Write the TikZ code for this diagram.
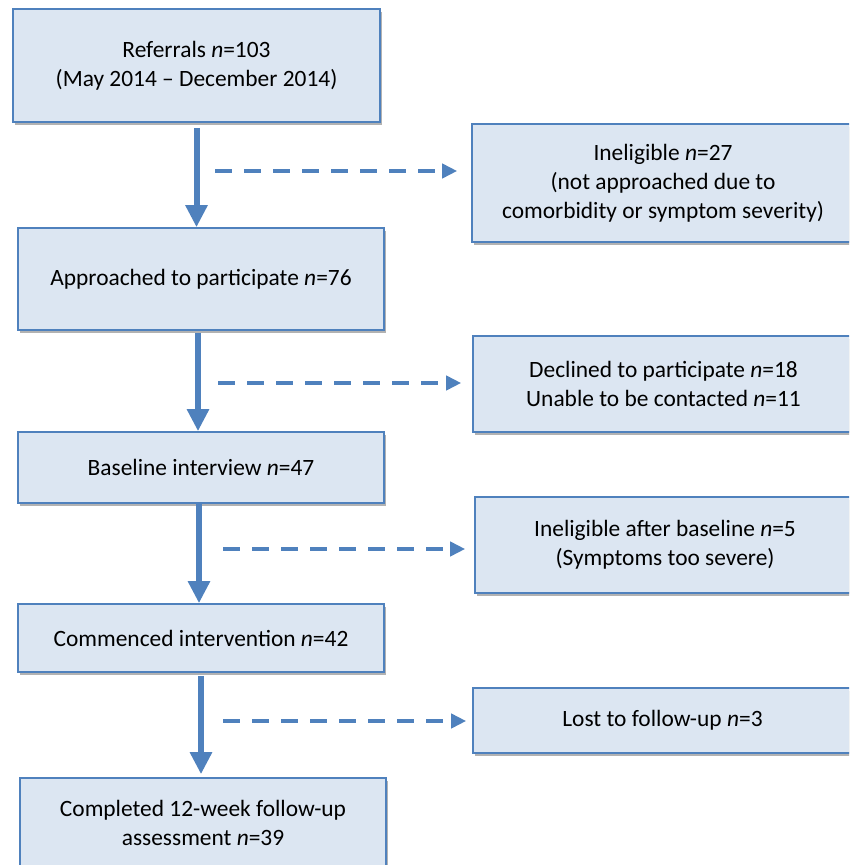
\documentclass[tikz,border=0pt]{standalone}
\usepackage{fontspec}
\setmainfont{Carlito}
\usetikzlibrary{arrows.meta,shadows}
\definecolor{boxfill}{RGB}{220,230,242}
\definecolor{boxline}{RGB}{79,129,189}
\definecolor{arrowblue}{RGB}{79,129,189}
\begin{document}
\begin{tikzpicture}[x=0.5pt,y=-0.5pt]
        \tikzset{flow box/.style={rectangle,draw=boxline, line width=0.8pt, fill=boxfill, align=center, inner sep=0pt,
                   font=\fontsize{11.7}{14.5}\selectfont,
                   drop shadow={shadow xshift=1.2pt, shadow yshift=-1.5pt, opacity=0.3, fill=black}},
                 main arrow/.style={draw=arrowblue, line width=3pt, -{Triangle[width=10.5pt,length=11pt]}},
                 skip arrow/.style={draw=arrowblue, line width=2.4pt, dash pattern=on 8.5pt off 6pt,
                   -{Triangle[width=7pt,length=7.5pt]}}}
        \clip (0,0) rectangle (849,865);
        \fill[white] (0,0) rectangle (849,865);
        % main column
        \node[flow box, minimum width=183.5pt, minimum height=56.5pt] (refer) at (196.5,65.5) {Referrals \textit{n}=103\\(May 2014 -- December 2014)};
        \node[flow box, minimum width=183pt, minimum height=51pt] (approach) at (201,279) {Approached to participate \textit{n}=76};
        \node[flow box, minimum width=183pt, minimum height=35.5pt] (baseline) at (201,467.5) {Baseline interview \textit{n}=47};
        \node[flow box, minimum width=183pt, minimum height=34pt] (commence) at (201,638) {Commenced intervention \textit{n}=42};
        \node[flow box, minimum width=183pt, minimum height=45pt] (complete) at (203,823) {Completed 12-week follow-up\\assessment \textit{n}=39};
        % exclusions
        \node[flow box, minimum width=191pt, minimum height=59pt] (inelig) at (663,183) {Ineligible \textit{n}=27\\(not approached due to\\comorbidity or symptom severity)};
        \node[flow box, minimum width=190.5pt, minimum height=48pt] (declined) at (663.5,384) {Declined to participate \textit{n}=18\\Unable to be contacted \textit{n}=11};
        \node[flow box, minimum width=190pt, minimum height=48pt] (severe) at (665,545) {Ineligible after baseline \textit{n}=5\\(Symptoms too severe)};
        \node[flow box, minimum width=189.5pt, minimum height=32.5pt] (lost) at (662.5,720.5) {Lost to follow-up \textit{n}=3};
        % arrows
        \draw[main arrow, shorten <=2.5pt] (refer.south) -- (refer.south |- approach.north);
        \draw[main arrow, shorten <=1pt] (198,0 |- approach.south) -- (198,0 |- baseline.north);
        \draw[main arrow] (199,0 |- baseline.south) -- (199,0 |- commence.north);
        \draw[main arrow, shorten <=1.5pt, shorten >=1.5pt] (201,0 |- commence.south) -- (201,0 |- complete.north);
        \coordinate (s1) at (215,171);
        \coordinate (s2) at (218,383);
        \coordinate (s3) at (223,549);
        \coordinate (s4) at (223,721);
        \draw[skip arrow, shorten >=7pt] (s1) -- (s1 -| inelig.west);
        \draw[skip arrow, shorten >=5.5pt] (s2) -- (s2 -| declined.west);
        \draw[skip arrow, shorten >=4.5pt] (s3) -- (s3 -| severe.west);
        \draw[skip arrow, shorten >=3pt] (s4) -- (s4 -| lost.west);
      \end{tikzpicture}
\end{document}
